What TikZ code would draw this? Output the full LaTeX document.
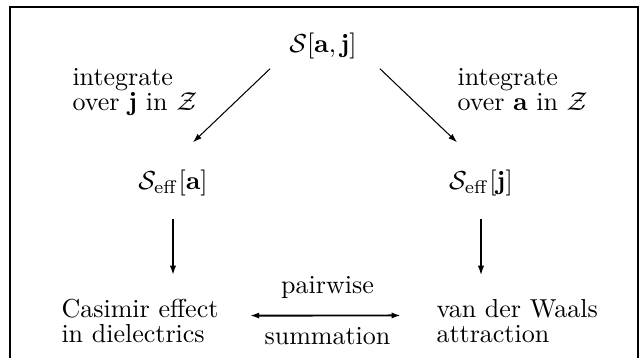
\documentclass[tikz,border=0pt]{standalone}
\usepackage{amsmath}
\usepackage{amssymb}
\usetikzlibrary{arrows.meta, positioning, calc}

\begin{document}
\begin{tikzpicture}[
        x=0.3846pt, y=-0.3846pt,
        term/.style={anchor=base},
        note/.style={anchor=north west, inner sep=0pt, align=left, font=\fontsize{10}{9.6}\selectfont},
        result/.style={anchor=north west, inner sep=0pt, align=left, font=\fontsize{10}{9.6}\selectfont},
        diag/.style={-{Latex[length=3.4pt, width=2.3pt]}, line width=0.4pt},
        down/.style={-{Latex[length=3.6pt, width=2.4pt]}, shorten <=5.3pt, shorten >=9.2pt},
        pair/.style={{Latex[length=3.6pt, width=2.4pt]}-{Latex[length=3.6pt, width=2.4pt]}, line width=0.75pt}
    ]
        \useasboundingbox (0,0) rectangle (642,358);
        \draw[line width=1pt] (10,358) -- (10,7) -- (638,7) -- (638,358);

        \node[term] (top) at (323,53) {$\mathcal{S}[\mathbf{a},\mathbf{j}]$};
        \node[term] (effa) at (173,190) {$\mathcal{S}_{\mathrm{eff}}[\mathbf{a}]$};
        \node[term] (effj) at (481,190) {$\mathcal{S}_{\mathrm{eff}}[\mathbf{j}]$};

        \node[note] (intj) at (72,68) {integrate\\over $\mathbf{j}$ in $\mathcal{Z}$};
        \node[note] (inta) at (457,68) {integrate\\over $\mathbf{a}$ in $\mathcal{Z}$};

        \node[result] (cas) at (61,299) {Casimir effect\\in dielectrics};
        \node[result] (vdw) at (436,299) {van der Waals\\attraction};

        \draw[diag] ($(top.south west)+(-10,0)$) -- ($(effa.north)+(20,-19)$);
        \draw[diag] ($(top.south east)+(14,0)$) -- ($(effj.north)+(-24,-19)$);
        \draw[down, line width=0.65pt] (effa.south) -- (effa.south |- cas.north);
        \draw[down, line width=0.45pt] (effj.south) -- (effj.south |- vdw.north);
        \draw[pair, shorten <=11.9pt, shorten >=13.5pt] ([yshift=2.2pt]cas.east) -- node[above=3pt] {pairwise} node[below=1pt] {summation} ([yshift=2.2pt]vdw.west);
    \end{tikzpicture}
\end{document}
